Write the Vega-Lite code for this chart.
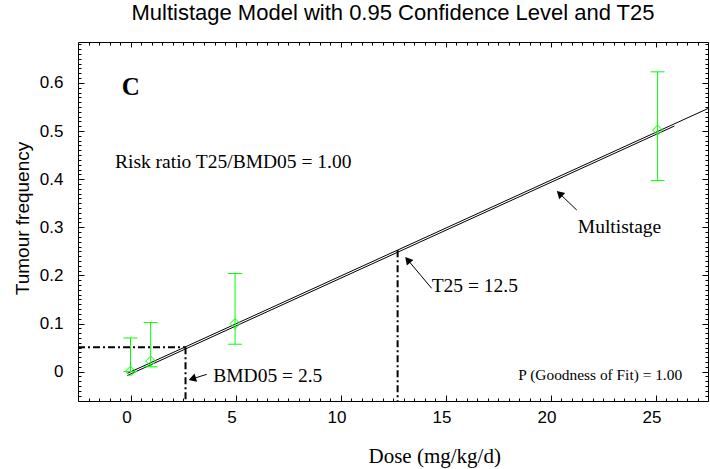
{
  "$schema": "https://vega.github.io/schema/vega-lite/v6.json",
  "width": 630,
  "height": 359,
  "autosize": {"type": "none"},
  "padding": {"left": 78, "top": 42, "right": 2, "bottom": 68},
  "background": "white",
  "title": {"text": "Multistage Model with 0.95 Confidence Level and T25", "font": "Liberation Sans", "fontSize": 22, "fontWeight": "normal", "color": "black", "offset": 10, "anchor": "middle"},
  "config": {"view": {"stroke": "black", "strokeWidth": 1}, "font": "Liberation Sans"},
  "resolve": {"axis": {"x": "independent", "y": "independent"}},
  "datasets": {
    "fit": [
      {"dose": -0.15, "freq": -0.0035, "curve": "a"},
      {"dose": 27.5, "freq": 0.5468, "curve": "a"},
      {"dose": -0.15, "freq": -0.008, "curve": "b"},
      {"dose": 25.9, "freq": 0.5104, "curve": "b"}
    ],
    "obs": [
      {"dose": 0, "freq": 0.001, "lo": 0, "hi": 0.07},
      {"dose": 0.96, "freq": 0.022, "lo": 0.01, "hi": 0.102},
      {"dose": 4.98, "freq": 0.1, "lo": 0.057, "hi": 0.204},
      {"dose": 25.1, "freq": 0.502, "lo": 0.397, "hi": 0.623}
    ],
    "guides": [
      {"x": -2.5, "y": 0.0505, "x2": 2.62, "y2": 0.0505},
      {"x": 2.62, "y": 0.0505, "x2": 2.62, "y2": -0.061},
      {"x": 12.72, "y": 0.2525, "x2": 12.72, "y2": -0.061}
    ],
    "arrows": [
      {"name": "BMD05", "x": 3.63, "y": -0.0056, "x2": 2.94, "y2": -0.015},
      {"name": "T25", "x": 14.34, "y": 0.1731, "x2": 13.2, "y2": 0.2324},
      {"name": "Multistage", "x": 21.25, "y": 0.3358, "x2": 20.43, "y2": 0.3701}
    ],
    "notes": [
      {"text": "Risk ratio T25/BMD05 = 1.00", "x": -0.74, "y": 0.4225},
      {"text": "Multistage", "x": 21.3, "y": 0.2887},
      {"text": "T25 = 12.5", "x": 14.34, "y": 0.1648},
      {"text": "BMD05 = 2.5", "x": 3.94, "y": -0.021}
    ],
    "panel": [{"text": "C", "x": -0.42, "y": 0.5748}],
    "gof": [{"text": "P (Goodness of Fit) = 1.00", "x": 18.47, "y": -0.0175}]
  },
  "layer": [
    {
      "data": {"name": "fit"},
      "mark": {"type": "line", "color": "black", "strokeWidth": 1, "clip": true},
      "encoding": {
        "x": {"field": "dose", "type": "quantitative", "scale": {"domain": [-2.5, 27.5], "nice": false, "zero": false},
          "axis": {"orient": "bottom", "domain": false, "grid": false,
            "values": [-2,-1.5,-1,-0.5,0,0.5,1,1.5,2,2.5,3,3.5,4,4.5,5,5.5,6,6.5,7,7.5,8,8.5,9,9.5,10,10.5,11,11.5,12,12.5,13,13.5,14,14.5,15,15.5,16,16.5,17,17.5,18,18.5,19,19.5,20,20.5,21,21.5,22,22.5,23,23.5,24,24.5,25,25.5,26,26.5,27],
            "tickSize": {"condition": {"test": "datum.value % 5 === 0", "value": -6}, "value": -3},
            "tickColor": "black", "tickWidth": 1,
            "labelExpr": "datum.value % 5 === 0 ? format(datum.value, 'd') : ''",
            "labelFont": "Liberation Sans", "labelFontSize": 17, "labelColor": "black", "labelPadding": 14, "labelOffset": -4,
            "labelFlush": false, "labelOverlap": false, "labelBound": false,
            "title": "Dose (mg/kg/d)", "titleFont": "Liberation Serif", "titleFontSize": 21, "titleFontWeight": "normal", "titleColor": "black",
            "titleAlign": "left", "titleX": 290, "titleY": 61, "titleBaseline": "alphabetic"}},
        "y": {"field": "freq", "type": "quantitative", "scale": {"domain": [-0.061, 0.685], "nice": false, "zero": false},
          "axis": {"orient": "left", "domain": false, "grid": false,
            "values": [-0.06,-0.05,-0.04,-0.03,-0.02,-0.01,0,0.01,0.02,0.03,0.04,0.05,0.06,0.07,0.08,0.09,0.1,0.11,0.12,0.13,0.14,0.15,0.16,0.17,0.18,0.19,0.2,0.21,0.22,0.23,0.24,0.25,0.26,0.27,0.28,0.29,0.3,0.31,0.32,0.33,0.34,0.35,0.36,0.37,0.38,0.39,0.4,0.41,0.42,0.43,0.44,0.45,0.46,0.47,0.48,0.49,0.5,0.51,0.52,0.53,0.54,0.55,0.56,0.57,0.58,0.59,0.6,0.61,0.62,0.63,0.64,0.65,0.66,0.67,0.68],
            "tickSize": {"condition": {"test": "round(datum.value * 100) % 10 === 0", "value": -6}, "value": -3},
            "tickColor": "black", "tickWidth": 1,
            "labelExpr": "round(datum.value * 100) % 10 === 0 ? (round(datum.value * 100) === 0 ? '0' : format(datum.value, '.1f')) : ''",
            "labelFont": "Liberation Sans", "labelFontSize": 17, "labelColor": "black", "labelPadding": 21,
            "labelFlush": false, "labelOverlap": false, "labelBound": false,
            "title": "Tumour frequency", "titleFont": "Liberation Sans", "titleFontSize": 19, "titleFontWeight": "normal", "titleColor": "black",
            "titleX": -50, "titleY": 176, "titleBaseline": "alphabetic", "titleAngle": -90}},
        "detail": {"field": "curve", "type": "nominal"}
      }
    },
    {
      "data": {"name": "obs"},
      "mark": {"type": "rule", "color": "#00ff00", "strokeWidth": 1},
      "encoding": {
        "x": {"field": "dose", "type": "quantitative", "axis": null},
        "y": {"field": "lo", "type": "quantitative", "axis": null},
        "y2": {"field": "hi"}
      }
    },
    {
      "data": {"name": "obs"},
      "mark": {"type": "tick", "orient": "horizontal", "size": 14, "thickness": 1, "color": "#00ff00", "opacity": 1},
      "encoding": {
        "x": {"field": "dose", "type": "quantitative", "axis": null},
        "y": {"field": "hi", "type": "quantitative", "axis": null}
      }
    },
    {
      "data": {"name": "obs"},
      "mark": {"type": "tick", "orient": "horizontal", "size": 14, "thickness": 1, "color": "#00ff00", "opacity": 1},
      "encoding": {
        "x": {"field": "dose", "type": "quantitative", "axis": null},
        "y": {"field": "lo", "type": "quantitative", "axis": null}
      }
    },
    {
      "data": {"name": "obs"},
      "mark": {"type": "point", "shape": "diamond", "filled": false, "size": 100, "stroke": "#00ff00", "strokeWidth": 1, "opacity": 1},
      "encoding": {
        "x": {"field": "dose", "type": "quantitative",
          "axis": {"orient": "top", "domain": false, "grid": false, "labels": false, "title": null,
            "values": [-2,-1.5,-1,-0.5,0,0.5,1,1.5,2,2.5,3,3.5,4,4.5,5,5.5,6,6.5,7,7.5,8,8.5,9,9.5,10,10.5,11,11.5,12,12.5,13,13.5,14,14.5,15,15.5,16,16.5,17,17.5,18,18.5,19,19.5,20,20.5,21,21.5,22,22.5,23,23.5,24,24.5,25,25.5,26,26.5,27],
            "tickSize": {"condition": {"test": "datum.value % 5 === 0", "value": -5}, "value": -3},
            "tickColor": "black", "tickWidth": 1}},
        "y": {"field": "freq", "type": "quantitative",
          "axis": {"orient": "right", "domain": false, "grid": false, "labels": false, "title": null,
            "values": [-0.06,-0.05,-0.04,-0.03,-0.02,-0.01,0,0.01,0.02,0.03,0.04,0.05,0.06,0.07,0.08,0.09,0.1,0.11,0.12,0.13,0.14,0.15,0.16,0.17,0.18,0.19,0.2,0.21,0.22,0.23,0.24,0.25,0.26,0.27,0.28,0.29,0.3,0.31,0.32,0.33,0.34,0.35,0.36,0.37,0.38,0.39,0.4,0.41,0.42,0.43,0.44,0.45,0.46,0.47,0.48,0.49,0.5,0.51,0.52,0.53,0.54,0.55,0.56,0.57,0.58,0.59,0.6,0.61,0.62,0.63,0.64,0.65,0.66,0.67,0.68],
            "tickSize": {"condition": {"test": "round(datum.value * 100) % 10 === 0", "value": -6}, "value": -3},
            "tickColor": "black", "tickWidth": 1}}
      }
    },
    {
      "data": {"name": "guides"},
      "mark": {"type": "rule", "color": "black", "strokeWidth": 2, "strokeDash": [7, 3, 2, 3]},
      "encoding": {
        "x": {"field": "x", "type": "quantitative", "axis": null},
        "y": {"field": "y", "type": "quantitative", "axis": null},
        "x2": {"field": "x2"},
        "y2": {"field": "y2"}
      }
    },
    {
      "data": {"name": "arrows"},
      "mark": {"type": "rule", "color": "black", "strokeWidth": 1},
      "encoding": {
        "x": {"field": "x", "type": "quantitative", "axis": null},
        "y": {"field": "y", "type": "quantitative", "axis": null},
        "x2": {"field": "x2"},
        "y2": {"field": "y2"}
      }
    },
    {
      "data": {"name": "arrows"},
      "transform": [{"filter": "datum.name === 'BMD05'"}],
      "mark": {"type": "point", "shape": "triangle-up", "filled": true, "color": "black", "size": 75, "angle": 252.6, "opacity": 1},
      "encoding": {
        "x": {"field": "x2", "type": "quantitative", "axis": null},
        "y": {"field": "y2", "type": "quantitative", "axis": null}
      }
    },
    {
      "data": {"name": "arrows"},
      "transform": [{"filter": "datum.name === 'T25'"}],
      "mark": {"type": "point", "shape": "triangle-up", "filled": true, "color": "black", "size": 75, "angle": 319.8, "opacity": 1},
      "encoding": {
        "x": {"field": "x2", "type": "quantitative", "axis": null},
        "y": {"field": "y2", "type": "quantitative", "axis": null}
      }
    },
    {
      "data": {"name": "arrows"},
      "transform": [{"filter": "datum.name === 'Multistage'"}],
      "mark": {"type": "point", "shape": "triangle-up", "filled": true, "color": "black", "size": 75, "angle": 314, "opacity": 1},
      "encoding": {
        "x": {"field": "x2", "type": "quantitative", "axis": null},
        "y": {"field": "y2", "type": "quantitative", "axis": null}
      }
    },
    {
      "data": {"name": "notes"},
      "mark": {"type": "text", "font": "Liberation Serif", "fontSize": 19.5, "color": "black", "align": "left", "baseline": "alphabetic"},
      "encoding": {
        "x": {"field": "x", "type": "quantitative", "axis": null},
        "y": {"field": "y", "type": "quantitative", "axis": null},
        "text": {"field": "text"}
      }
    },
    {
      "data": {"name": "panel"},
      "mark": {"type": "text", "font": "Liberation Serif", "fontSize": 25, "fontWeight": "bold", "color": "black", "align": "left", "baseline": "alphabetic"},
      "encoding": {
        "x": {"field": "x", "type": "quantitative", "axis": null},
        "y": {"field": "y", "type": "quantitative", "axis": null},
        "text": {"field": "text"}
      }
    },
    {
      "data": {"name": "gof"},
      "mark": {"type": "text", "font": "Liberation Serif", "fontSize": 15.4, "color": "black", "align": "left", "baseline": "alphabetic"},
      "encoding": {
        "x": {"field": "x", "type": "quantitative", "axis": null},
        "y": {"field": "y", "type": "quantitative", "axis": null},
        "text": {"field": "text"}
      }
    }
  ]
}
